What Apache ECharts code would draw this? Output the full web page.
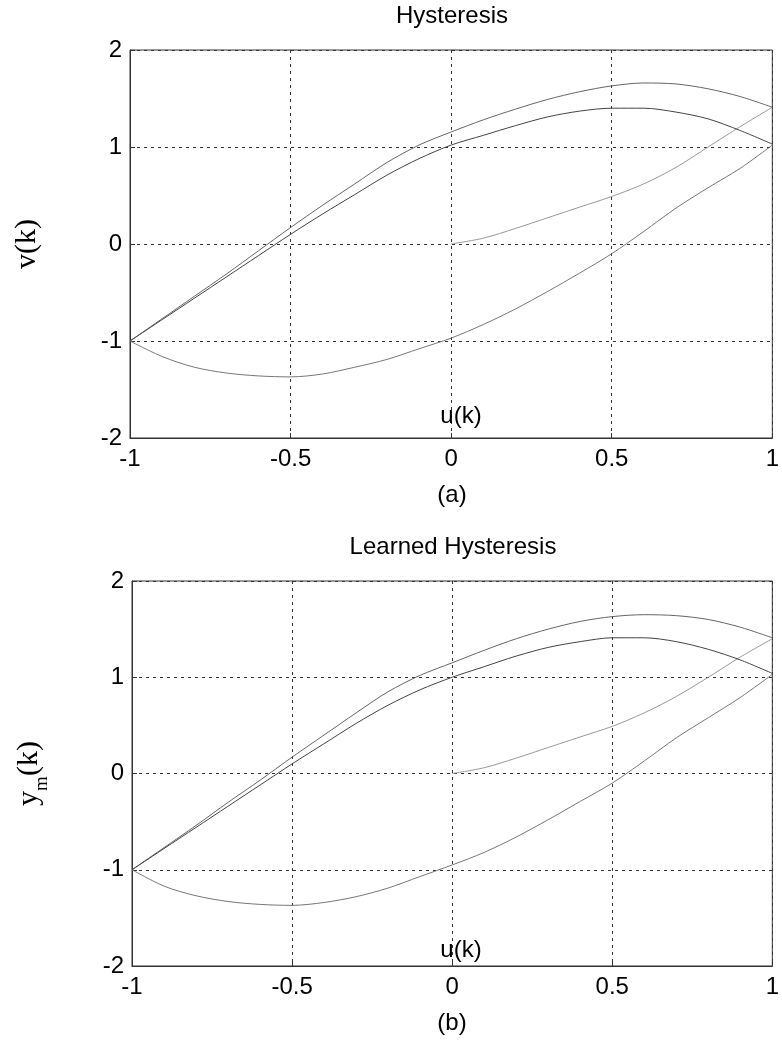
<!DOCTYPE html>
<html>
<head>
<meta charset="utf-8">
<script src="https://cdn.jsdelivr.net/npm/echarts@6/dist/echarts.min.js"></script>
<style>
  html,body{margin:0;padding:0;background:#fff;}
  #chart{width:782px;height:1042px;}
</style>
</head>
<body>
<div id="chart"></div>
<script>
// x values shared by the full branches
var uFull = [-1,-0.9,-0.8,-0.7,-0.6,-0.5,-0.4,-0.3,-0.2,-0.1,0,0.1,0.2,0.3,0.4,0.5,0.6,0.7,0.8,0.9,1]
// x values of the initial curve starting at the origin
var uInit = [0,0.1,0.2,0.3,0.4,0.5,0.6,0.7,0.8,0.9,1]

var xTicks = [-1,-0.5,0,0.5,1]
var yTicks = [-2,-1,0,1,2]

// (a) Hysteresis
var aInit  = [0,0.06,0.16,0.27,0.38,0.49,0.62,0.79,1.0,1.21,1.41]
var aUpper = [-1.0,-0.77,-0.54,-0.31,-0.07,0.17,0.40,0.62,0.84,1.02,1.155,1.28,1.39,1.49,1.57,1.63,1.66,1.65,1.60,1.52,1.41]
var aLower = [-1.0,-1.16,-1.27,-1.33,-1.36,-1.37,-1.34,-1.27,-1.19,-1.08,-0.97,-0.83,-0.67,-0.49,-0.30,-0.10,0.13,0.37,0.58,0.78,1.02]
var aInner = [-1.0,-0.78,-0.56,-0.34,-0.12,0.10,0.31,0.51,0.71,0.88,1.02,1.12,1.22,1.31,1.37,1.40,1.40,1.36,1.29,1.17,1.03]

// (b) Learned Hysteresis
var bInit  = [0,0.06,0.16,0.27,0.38,0.49,0.63,0.80,1.0,1.21,1.40]
var bUpper = [-1.0,-0.77,-0.54,-0.30,-0.07,0.17,0.40,0.63,0.85,1.02,1.15,1.28,1.40,1.50,1.58,1.63,1.65,1.64,1.60,1.52,1.41]
var bLower = [-1.0,-1.17,-1.27,-1.33,-1.36,-1.37,-1.34,-1.28,-1.19,-1.07,-0.95,-0.82,-0.66,-0.48,-0.29,-0.10,0.13,0.37,0.58,0.79,1.03]
var bInner = [-1.0,-0.78,-0.56,-0.34,-0.12,0.10,0.31,0.52,0.71,0.87,1.0,1.11,1.22,1.31,1.37,1.41,1.41,1.37,1.29,1.18,1.04]

function pairs(xs, ys){
  return xs.map(function(x,i){ return [x, ys[i]] })
}

var sans = 'Liberation Sans, Arial, sans-serif'
var serif = 'Liberation Serif, Times New Roman, serif'

function xAxisFor(idx){
  return {
    type:'value', gridIndex:idx, min:-1, max:1, interval:0.5,
    axisLine:{show:true, onZero:false, lineStyle:{color:'#333', width:1}},
    axisTick:{show:true, inside:true, length:5, lineStyle:{color:'#333'}},
    axisLabel:{color:'#000', fontSize:24, fontFamily:sans, margin:9,
      formatter:function(v){ return xTicks.indexOf(v) >= 0 ? String(v) : '' }},
    splitLine:{show:true, lineStyle:{color:'#333', width:1, type:[3,4]}}
  }
}
function yAxisFor(idx, name){
  return {
    type:'value', gridIndex:idx, min:-2, max:2, interval:1,
    name:name, nameLocation:'middle', nameGap:80, nameRotate:90,
    nameTextStyle:{color:'#000', fontSize:30, fontFamily:serif,
      rich:{
        a:{fontSize:30, fontFamily:serif, color:'#000', padding:[0,0,8,0], verticalAlign:'bottom'},
        s:{fontSize:19, fontFamily:serif, color:'#000', verticalAlign:'bottom'}
      }},
    axisLine:{show:true, onZero:false, lineStyle:{color:'#333', width:1}},
    axisTick:{show:true, inside:true, length:5, lineStyle:{color:'#333'}},
    axisLabel:{color:'#000', fontSize:24, fontFamily:sans, margin:8,
      formatter:function(v){ return yTicks.indexOf(v) >= 0 ? String(v) : '' }},
    splitLine:{show:true, lineStyle:{color:'#333', width:1, type:[3,4]}}
  }
}
function branch(idx, data, color){
  return {
    type:'line', xAxisIndex:idx, yAxisIndex:idx, data:data,
    showSymbol:false, smooth:0.3, animation:false,
    lineStyle:{color:color, width:1}
  }
}
function label(text, x, y, size){
  return {text:text, left:x, top:y, textAlign:'center', padding:0,
    textStyle:{fontSize:size || 24, fontWeight:'normal', color:'#000', fontFamily:sans}}
}

var chart = echarts.init(document.getElementById('chart'))
var option = {
  backgroundColor:'#fff',
  animation:false,
  title:[
    label('Hysteresis', 452, 4),
    label('u(k)', 461, 404),
    label('(a)', 452, 483),
    label('Learned Hysteresis', 453, 535),
    label('u(k)', 461, 938),
    label('(b)', 452, 1011)
  ],
  grid:[
    {left:130, top:50, width:645, height:388, show:true, borderColor:'#333', borderWidth:1},
    {left:132, top:581, width:643, height:385, show:true, borderColor:'#333', borderWidth:1}
  ],
  xAxis:[xAxisFor(0), xAxisFor(1)],
  yAxis:[yAxisFor(0, '{a|v(k)}'), yAxisFor(1, '{a|y}{s|m}{a|(k)}')],
  series:[
    branch(0, pairs(uInit, aInit), '#999'),
    branch(0, pairs(uFull, aUpper), '#666'),
    branch(0, pairs(uFull, aLower), '#777'),
    branch(0, pairs(uFull, aInner), '#444'),
    branch(1, pairs(uInit, bInit), '#999'),
    branch(1, pairs(uFull, bUpper), '#666'),
    branch(1, pairs(uFull, bLower), '#777'),
    branch(1, pairs(uFull, bInner), '#444')
  ]
}
chart.setOption(option)
window.addEventListener('resize',function(){ chart.resize() })
</script>
</body>
</html>
